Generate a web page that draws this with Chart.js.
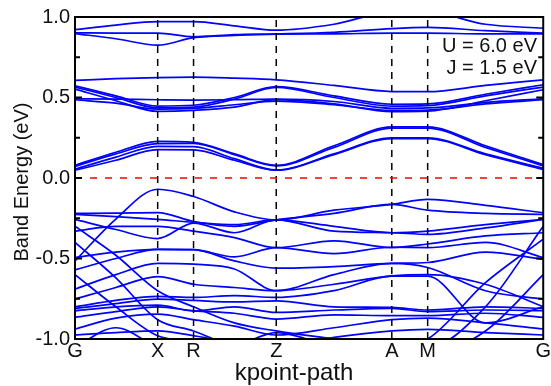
<!DOCTYPE html>
<html>
<head>
<meta charset="utf-8">
<script src="https://cdn.jsdelivr.net/npm/chart.js@4.4.0/dist/chart.umd.min.js"></script>
<style>
  html, body { margin: 0; padding: 0; background: #fff; }
  #wrap { width: 551px; height: 386px; }
</style>
</head>
<body>
<div id="wrap"><canvas id="bandChart"></canvas></div>
<script>
// k-path: high symmetry points (distance along the path) and labels
const kPoints = [0, 83, 119, 202, 318, 354, 470];
const kLabels = ['G', 'X', 'R', 'Z', 'A', 'M', 'G'];
// sample positions: G, G-X, X, R, R-Z, Z, Z-A, A, M, M-G, G
const kGrid = [0, 41, 83, 119, 160, 202, 260, 318, 354, 412, 470];

const yTicks = [-1, -0.5, 0, 0.5, 1];
const yMinorTicks = [-0.75, -0.25, 0.25, 0.75];
const fermiLevel = 0;
const annotations = ['U = 6.0 eV', 'J = 1.5 eV'];

// bands above the gap (0.8 - 1.0 eV)
const topBands = [
  [0.921, 0.95, 0.971, 0.971, 0.945, 0.918, 0.955, 1.03, 1.03, 0.955, 0.93],
  [0.902, 0.90, 0.90, 0.877, 0.89, 0.895, 0.905, 0.928, 0.935, 0.915, 0.90],
  [0.897, 0.865, 0.825, 0.872, 0.885, 0.893, 0.895, 0.90, 0.90, 0.895, 0.895]
];

// bands 0.4 - 0.65 eV
const midBands = [
  [0.606, 0.617, 0.624, 0.626, 0.62, 0.61, 0.575, 0.537, 0.536, 0.575, 0.61],
  [0.573, 0.51, 0.447, 0.452, 0.50, 0.567, 0.51, 0.458, 0.46, 0.52, 0.579],
  [0.565, 0.50, 0.436, 0.44, 0.49, 0.562, 0.50, 0.447, 0.45, 0.51, 0.565],
  [0.552, 0.48, 0.414, 0.42, 0.44, 0.487, 0.46, 0.412, 0.415, 0.48, 0.548],
  [0.492, 0.49, 0.486, 0.484, 0.486, 0.49, 0.475, 0.433, 0.435, 0.47, 0.492],
  [0.486, 0.465, 0.428, 0.432, 0.455, 0.478, 0.455, 0.42, 0.422, 0.46, 0.486]
];

// lowest conduction bands (0 - 0.35 eV)
const lowBands = [
  [0.079, 0.16, 0.228, 0.222, 0.15, 0.079, 0.2, 0.317, 0.317, 0.2, 0.083],
  [0.072, 0.15, 0.214, 0.215, 0.145, 0.075, 0.19, 0.31, 0.31, 0.19, 0.075],
  [0.055, 0.13, 0.197, 0.195, 0.12, 0.05, 0.15, 0.249, 0.249, 0.15, 0.06],
  [0.048, 0.11, 0.176, 0.175, 0.11, 0.048, 0.145, 0.245, 0.245, 0.145, 0.053]
];

// valence bands (below the Fermi level)
const valenceBands = [
  [-0.515, -0.255, -0.07, -0.115, -0.21, -0.26, -0.2, -0.164, -0.133, -0.17, -0.216],
  [-0.22, -0.218, -0.215, -0.27, -0.3, -0.26, -0.22, -0.164, -0.2, -0.22, -0.226],
  [-0.226, -0.24, -0.257, -0.275, -0.29, -0.26, -0.3, -0.34, -0.33, -0.29, -0.257],
  [-0.257, -0.32, -0.376, -0.28, -0.34, -0.26, -0.33, -0.34, -0.35, -0.31, -0.257],
  [-0.33, -0.30, -0.30, -0.33, -0.37, -0.433, -0.39, -0.432, -0.41, -0.36, -0.34],
  [-0.494, -0.46, -0.443, -0.445, -0.49, -0.433, -0.47, -0.43, -0.432, -0.40, -0.494],
  [-0.571, -0.50, -0.443, -0.445, -0.515, -0.56, -0.55, -0.53, -0.525, -0.46, -0.505],
  [-0.69, -0.60, -0.53, -0.535, -0.565, -0.70, -0.60, -0.53, -0.556, -0.70, -0.752],
  [-0.752, -0.68, -0.612, -0.66, -0.68, -0.70, -0.66, -0.608, -0.60, -0.66, -0.80],
  [-0.80, -0.76, -0.735, -0.742, -0.73, -0.742, -0.70, -0.61, -0.61, -0.90, -0.80],
  [-0.81, -0.78, -0.752, -0.76, -0.77, -0.763, -0.80, -0.804, -0.82, -0.80, -0.81],
  [-0.824, -0.80, -0.79, -0.825, -0.80, -0.835, -0.82, -0.81, -0.83, -0.82, -0.824],
  [-0.866, -0.83, -0.80, -0.825, -0.84, -0.876, -0.85, -0.855, -0.855, -0.84, -0.866],
  [-0.938, -0.87, -0.845, -0.88, -0.92, -0.975, -0.93, -0.88, -0.87, -0.90, -0.938],
  [-0.975, -0.96, -0.95, -0.98, -1.02, -1.05, -0.99, -0.95, -0.94, -0.96, -0.975],
  [-0.30, -0.48, -0.70, -0.80, -0.90, -0.95, -1.0, -1.05, -1.05, -0.80, -0.30],
  [-0.40, -0.62, -0.88, -0.95, -1.05, -1.1, -1.1, -1.05, -1.0, -0.65, -0.38],
  [-0.60, -0.80, -0.98, -1.02, -1.1, -1.1, -1.1, -1.1, -1.1, -0.95, -0.60],
  [-1.05, -0.93, -1.05, -1.1, -1.05, -0.96, -1.05, -1.1, -1.1, -1.05, -1.05]
];

const FONT = "'Liberation Sans', Arial, sans-serif";

function bandDataset(band) {
  return {
    data: kGrid.map((k, i) => ({ x: k, y: band[i] })),
    borderColor: '#0000ff',
    borderWidth: 1.7,
    pointRadius: 0,
    fill: false,
    cubicInterpolationMode: 'monotone'
  };
}

const datasets = [];
// Fermi level (red dashed)
datasets.push({
  data: [{ x: kPoints[0], y: fermiLevel }, { x: kPoints[kPoints.length - 1], y: fermiLevel }],
  borderColor: '#ff0000', borderWidth: 1.5, borderDash: [7, 8], pointRadius: 0
});
// vertical dashed lines at inner high-symmetry points
kPoints.slice(1, -1).forEach(k => {
  datasets.push({
    data: [{ x: k, y: -1 }, { x: k, y: 1 }],
    borderColor: '#000', borderWidth: 1.5, borderDash: [7, 6], pointRadius: 0
  });
});
[...topBands, ...midBands, ...lowBands, ...valenceBands].forEach(b => datasets.push(bandDataset(b)));

// frame, inward ticks, axis titles and U/J note
const framePlugin = {
  id: 'frame',
  afterDraw(chart) {
    const { ctx, chartArea: a, scales } = chart;
    const y = scales.y;
    ctx.save();
    ctx.strokeStyle = '#000';
    ctx.lineWidth = 2;
    ctx.strokeRect(a.left, a.top, a.right - a.left, a.bottom - a.top);
    ctx.beginPath();
    yTicks.forEach(v => {
      const p = y.getPixelForValue(v);
      ctx.moveTo(a.left, p); ctx.lineTo(a.left + 7, p);
      ctx.moveTo(a.right, p); ctx.lineTo(a.right - 7, p);
    });
    yMinorTicks.forEach(v => {
      const p = y.getPixelForValue(v);
      ctx.moveTo(a.left, p); ctx.lineTo(a.left + 5, p);
      ctx.moveTo(a.right, p); ctx.lineTo(a.right - 5, p);
    });
    ctx.stroke();

    ctx.fillStyle = '#111';
    ctx.font = '20px ' + FONT;
    ctx.textAlign = 'right';
    ctx.textBaseline = 'middle';
    ctx.fillText(annotations[0], 537, 46);
    ctx.fillText(annotations[1], 537, 68);

    ctx.textAlign = 'center';
    ctx.font = '24px ' + FONT;
    ctx.fillText('kpoint-path', 294, 373);

    ctx.translate(22, 182);
    ctx.rotate(-Math.PI / 2);
    ctx.font = '20px ' + FONT;
    ctx.fillText('Band Energy (eV)', 0, 0);
    ctx.restore();
  }
};

new Chart(document.getElementById('bandChart'), {
  type: 'line',
  data: { datasets },
  options: {
    responsive: true,
    maintainAspectRatio: false,
    animation: false,
    layout: { padding: { top: 17, right: 6, left: 0, bottom: 0 } },
    plugins: { legend: { display: false }, tooltip: { enabled: false } },
    scales: {
      x: {
        type: 'linear',
        min: kPoints[0],
        max: kPoints[kPoints.length - 1],
        afterBuildTicks: s => { s.ticks = kPoints.map(v => ({ value: v })); },
        afterFit: s => { s.height = 47; },
        ticks: {
          autoSkip: false, maxRotation: 0, padding: 0,
          color: '#111', font: { size: 20, family: FONT },
          callback: (v, i) => kLabels[i]
        },
        grid: { display: false, drawTicks: false },
        border: { display: false }
      },
      y: {
        min: -1,
        max: 1,
        afterBuildTicks: s => { s.ticks = yTicks.map(v => ({ value: v })); },
        afterFit: s => { s.width = 75; },
        ticks: {
          padding: 5, color: '#111', font: { size: 20, family: FONT },
          callback: v => v.toFixed(1)
        },
        grid: { display: false, drawTicks: false },
        border: { display: false }
      }
    }
  },
  plugins: [framePlugin]
});
</script>
</body>
</html>
